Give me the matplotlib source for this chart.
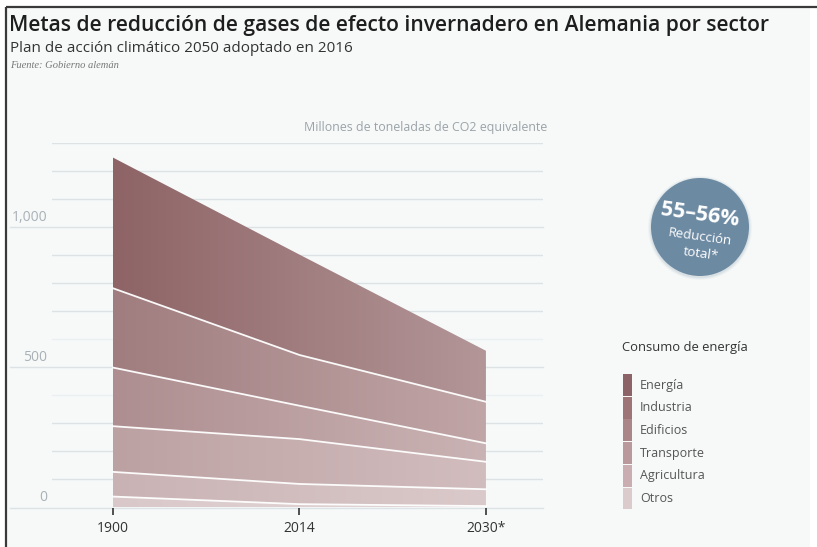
import numpy as np
import matplotlib
matplotlib.use("Agg")
import matplotlib.pyplot as plt
from matplotlib import transforms
from matplotlib.colors import to_rgb
from matplotlib.patches import Circle, Rectangle

plt.rcParams["font.family"] = ["Open Sans", "DejaVu Sans"]

# ---- data (millones de toneladas de CO2 equivalente) ----
years = ["1900", "2014", "2030*"]
sectors = ["Energía", "Industria", "Edificios", "Transporte", "Agricultura", "Otros"]
energia = [466, 358, 182]
industria = [283, 181, 148]
edificios = [209, 119, 66]
transporte = [163, 160, 98]
agricultura = [88, 72, 60]
otros = [39, 12, 5]

y_label_values = [0, 500, 1000]
y_label_texts = ["0", "500", "1,000"]
grid_values = [100, 200, 300, 400, 500, 600, 700, 800, 900, 1000, 1100, 1200, 1300]
faint_grid = [400, 600]
long_grid = [0, 500, 1000]

# layer colours: (left, right) for a horizontal fade
layer_colors = {
    "Energía": ("#8e6466", "#b39698"),
    "Industria": ("#a07d7f", "#c1a6a7"),
    "Edificios": ("#ae8e90", "#cab3b4"),
    "Transporte": ("#bca1a2", "#d2bdbe"),
    "Agricultura": ("#c9b2b3", "#dbcacb"),
    "Otros": ("#d9c8c9", "#e3d7d8"),
}
legend_colors = ["#8c6366", "#9d7577", "#aa8688", "#b9999b", "#c9adb0", "#dccbcd"]

W, H = 817, 547
fig = plt.figure(figsize=(W / 100, H / 100), dpi=100, facecolor="white")

# background panel with dark frame on top and left
bg = fig.add_axes([0, 0, 1, 1], zorder=0)
bg.set_xlim(0, W)
bg.set_ylim(H, 0)
bg.axis("off")
bg.add_patch(Rectangle((7, 7), 803, 540, facecolor="#f7f9f9", edgecolor="none"))
bg.plot([6.5, W], [6.5, 6.5], color="#3a3a3a", lw=1.6, solid_capstyle="butt")
bg.plot([6.5, 6.5], [6.5, H], color="#3a3a3a", lw=1.6, solid_capstyle="butt")

# ---- chart axes ----
ax = fig.add_axes([52 / W, (H - 507.5) / H, 491 / W, (507.5 - 143) / H], zorder=1)
ax.patch.set_alpha(0)
x = np.arange(len(years))

grid_trans = transforms.blended_transform_factory(fig.transFigure, ax.transData)
for v in grid_values:
    col = "#eceff1" if v in faint_grid else "#dde2e5"
    if v in long_grid:
        ax.plot([10 / W, 543 / W], [v, v], transform=grid_trans, color=col,
                lw=1, clip_on=False, zorder=0)
    else:
        ax.axhline(v, color=col, lw=1, zorder=0)
ax.plot([10 / W, 543 / W], [0, 0], transform=grid_trans, color="#dde2e5",
        lw=1, clip_on=False, zorder=0)

stack = [("Otros", otros), ("Agricultura", agricultura), ("Transporte", transporte),
         ("Edificios", edificios), ("Industria", industria), ("Energía", energia)]
base = np.zeros(len(years))
t = np.linspace(0, 1, 256)[:, None]
for i, (name, vals) in enumerate(stack):
    top = base + np.array(vals, dtype=float)
    poly = ax.fill_between(x, base, top, facecolor="none", edgecolor="none")
    cl, cr = (np.array(to_rgb(c)) for c in layer_colors[name])
    img = ((1 - t) * cl + t * cr)[None, :, :]
    im = ax.imshow(img, extent=(x[0], x[-1], 0, 1300), aspect="auto",
                   origin="lower", interpolation="bilinear", zorder=2)
    im.set_clip_path(poly.get_paths()[0], transform=ax.transData)
    if i < len(stack) - 1:
        ax.plot(x, top, color="white", lw=1.3, zorder=3, alpha=0.95)
    base = top

ax.set_xlim(-0.327, 2.306)
ax.set_ylim(0, 1300)
for s in ax.spines.values():
    s.set_visible(False)
ax.set_yticks([])
ax.set_xticks(x, years)
ax.tick_params(axis="x", length=5, width=1.2, color="#333333", pad=5,
               labelsize=10, labelcolor="#333333")

label_trans = transforms.offset_copy(grid_trans, fig=fig, y=10, units="dots")
for v, txt in zip(y_label_values, y_label_texts):
    ax.text(47 / W, v, txt, transform=label_trans, ha="right", va="center",
            fontsize=10, color="#a9b1b6", clip_on=False)

# ---- titles and annotations ----
ov = fig.add_axes([0, 0, 1, 1], zorder=2)
ov.set_xlim(0, W)
ov.set_ylim(H, 0)
ov.axis("off")
ov.patch.set_alpha(0)

ov.text(9, 25, "Metas de reducción de gases de efecto invernadero en Alemania por sector",
        fontsize=15.1, fontweight="semibold", color="#1e1e1e", va="center", ha="left")
ov.text(10, 48, "Plan de acción climático 2050 adoptado en 2016",
        fontsize=11, color="#333333", va="center", ha="left")
ov.text(10, 66, "Fuente: Gobierno alemán", fontsize=7.6, style="italic",
        family="Liberation Serif", color="#777777", va="center", ha="left")
ov.text(547, 128, "Millones de toneladas de CO2 equivalente",
        fontsize=8.9, color="#9ba3a8", va="center", ha="right")

# reduction badge
cx, cy, r = 700, 227, 49
for k, a in enumerate([0.05, 0.07, 0.1]):
    ov.add_patch(Circle((cx, cy + 1), r + 3 - k, facecolor="#6b859a", alpha=a,
                        edgecolor="none"))
ov.add_patch(Circle((cx, cy), r, facecolor="#6d8aa3", edgecolor="none"))
ov.text(cx, cy - 12, "55–56%", fontsize=15.5, fontweight="bold", color="white",
        ha="center", va="center", rotation=-8, rotation_mode="anchor")
ov.text(cx, cy + 10, "Reducción", fontsize=9.5, color="white",
        ha="center", va="center", rotation=-8, rotation_mode="anchor")
ov.text(cx + 1, cy + 27, "total*", fontsize=9.5, color="white",
        ha="center", va="center", rotation=-8, rotation_mode="anchor")

# legend
ov.text(622, 348, "Consumo de energía", fontsize=9.4, color="#333333",
        ha="left", va="center")
for i, (name, col) in enumerate(zip(sectors, legend_colors)):
    y0 = 374 + i * 22.7
    ov.add_patch(Rectangle((623, y0), 9, 21.9, facecolor=col, edgecolor="none"))
    ov.text(640, y0 + 11, name, fontsize=9, color="#555555", ha="left", va="center")

fig.savefig("out.png", dpi=100, facecolor="white")
